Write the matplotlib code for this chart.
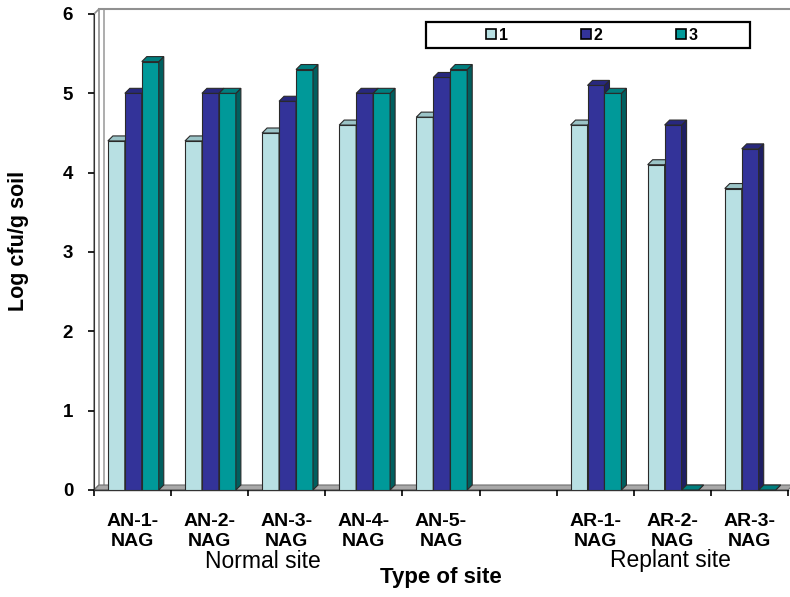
import matplotlib
matplotlib.use("Agg")
import matplotlib.pyplot as plt
from matplotlib.patches import Polygon, Rectangle, Patch

plt.rcParams['font.family'] = ['Liberation Sans', 'DejaVu Sans']

# ========== data ==========
sites = ["AN-1-\nNAG", "AN-2-\nNAG", "AN-3-\nNAG", "AN-4-\nNAG", "AN-5-\nNAG", "",
         "AR-1-\nNAG", "AR-2-\nNAG", "AR-3-\nNAG"]
series_names = ["1", "2", "3"]
vals_1 = [4.4, 4.4, 4.5, 4.6, 4.7, None, 4.6, 4.1, 3.8]
vals_2 = [5.0, 5.0, 4.9, 5.0, 5.2, None, 5.1, 4.6, 4.3]
vals_3 = [5.4, 5.0, 5.3, 5.0, 5.3, None, 5.0, 0.0, 0.0]
groups = ["Normal site", "Replant site"]

# front / top / side face colours per series
front = ["#B8E0E3", "#333399", "#009999"]
top = ["#9BC4C7", "#28287E", "#007E7E"]
side = ["#7EA4A6", "#1F1F63", "#005F5F"]

W, H = 790, 597
fig = plt.figure(figsize=(W / 100, H / 100), dpi=100)
ax = fig.add_axes([94 / W, 1 - 490 / H, 694 / W, 476 / H])
ax.set_xlim(0, len(sites))
ax.set_ylim(0, 6)

# 3d depth in data units (about 5 px)
dx = 5 / 77.1
dy = 5 / 79.3
n = len(sites)

# walls and floor
ax.add_patch(Polygon([(0, 0), (dx, dy), (dx, 6 + dy), (0, 6)], closed=True,
                     facecolor="white", edgecolor="#909090", lw=1.2, clip_on=False, zorder=0.5))
ax.plot([dx * 2, dx * 2], [dy, 6 + dy], color="#A0A0A0", lw=1.2, clip_on=False, zorder=0.6)
ax.plot([dx, n + 1], [6 + dy, 6 + dy], color="#909090", lw=1.5, clip_on=False, zorder=0.6)
ax.add_patch(Polygon([(0, 0), (n, 0), (n + dx, dy), (dx, dy)], closed=True,
                     facecolor="#A8A8A8", edgecolor="#707070", lw=0.8, clip_on=False, zorder=0.7))

# bars with 3d faces
bw = 0.22
off = 0.18
z = 1
for i in range(n):
    for j, vals in enumerate([vals_1, vals_2, vals_3]):
        v = vals[i]
        if v is None:
            continue
        x0 = i + off + j * bw
        ax.bar(x0, v, width=bw, align="edge", color=front[j], edgecolor="#2a2a2a",
               lw=0.8, zorder=z)
        ax.add_patch(Polygon([(x0 + bw, 0), (x0 + bw + dx, dy), (x0 + bw + dx, v + dy), (x0 + bw, v)],
                             closed=True, facecolor=side[j], edgecolor="#2a2a2a", lw=0.8,
                             zorder=z, clip_on=False))
        ax.add_patch(Polygon([(x0, v), (x0 + dx, v + dy), (x0 + bw + dx, v + dy), (x0 + bw, v)],
                             closed=True, facecolor=top[j], edgecolor="#2a2a2a", lw=0.8,
                             zorder=z, clip_on=False))
        z += 0.01

# axes
for s in ["top", "right"]:
    ax.spines[s].set_visible(False)
ax.spines["left"].set_color("#333333")
ax.spines["bottom"].set_visible(False)
ax.set_yticks(range(0, 7))
ax.set_yticklabels([str(t) for t in range(0, 7)], fontsize=13.5, fontweight="bold")
ax.tick_params(axis="y", direction="out", length=4, width=1.2, pad=11, colors="black")
ax.set_xticks(range(0, n + 1))
ax.set_xticklabels([])
ax.tick_params(axis="x", direction="out", length=4, width=1.2, colors="black")
ax.plot([0, n], [0, 0], color="#333333", lw=1.0, clip_on=False, zorder=0.8)

for i, lab in enumerate(sites):
    ax.text(i + 0.5, -23 / 79.3, lab, ha="center", va="top",
            fontsize=14, fontweight="bold", linespacing=1.2)

fig.text(263 / W, 1 - 561 / H, groups[0], ha="center", va="center", fontsize=16.5)
fig.text(670 / W, 1 - 561 / H, groups[1], ha="center", va="center", fontsize=16.5)
fig.text(441 / W, 1 - 578 / H, "Type of site", ha="center", va="center",
         fontsize=16, fontweight="bold")
fig.text(19 / W, 1 - 241 / H, "Log cfu/g soil", ha="center", va="center",
         rotation=90, fontsize=15.5, fontweight="bold")

# legend box
fig.patches.append(Rectangle((426 / W, 1 - 48 / H), 324 / W, 26 / H, transform=fig.transFigure,
                             facecolor="white", edgecolor="black", lw=1.6, zorder=5))
handles = [Patch(facecolor=front[k], edgecolor="black", lw=1.2) for k in range(3)]
leg = fig.legend(handles, series_names, loc="center", bbox_to_anchor=(592 / W, 1 - 35 / H),
                 ncol=3, frameon=False, handlelength=0.6, handleheight=0.6,
                 handletextpad=0.2, columnspacing=4.6,
                 prop={"size": 11.5, "weight": "bold"})

fig.savefig("out.png", dpi=100)
